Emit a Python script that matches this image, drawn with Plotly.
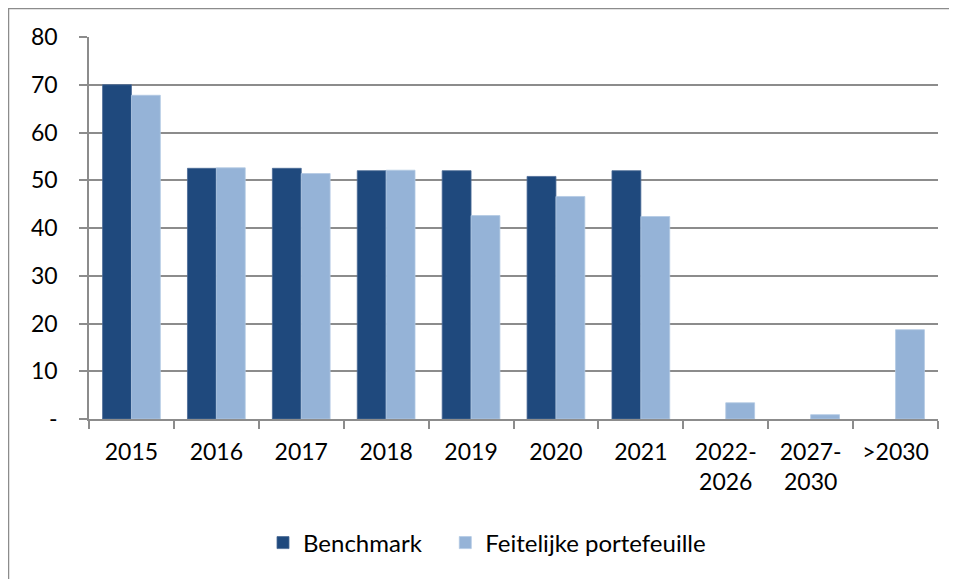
import plotly.graph_objects as go

categories = ["2015", "2016", "2017", "2018", "2019", "2020", "2021",
              "2022-<br>2026", "2027-<br>2030", ">2030"]
benchmark = [70.0, 52.5, 52.5, 52.0, 52.0, 50.8, 52.0, None, None, None]
portefeuille = [67.8, 52.6, 51.4, 52.1, 42.6, 46.6, 42.4, 3.4, 0.9, 18.7]
y_tickvals = [0, 10, 20, 30, 40, 50, 60, 70, 80]
y_ticktext = ["-", "10", "20", "30", "40", "50", "60", "70", "80"]

FONT = "Lato, Calibri, sans-serif"
GRID = "#8c8c8c"

fig = go.Figure()
fig.add_trace(go.Bar(x=categories, y=benchmark, name="Benchmark\u00a0\u00a0\u00a0",
                     marker=dict(color="#1F497D", line=dict(color="#4a6a96", width=0.8))))
fig.add_trace(go.Bar(x=categories, y=portefeuille, name="Feitelijke portefeuille",
                     marker=dict(color="#95B3D7", line=dict(color="#b3c9e3", width=0.8))))

# page body has an 8px margin; work in figure coordinates = reference - 8
OFF = 8
W, H = 957, 579
L, T = 89 - OFF, 37 - OFF
PR, PB = 938 - OFF, 419 - OFF
R, B = W - PR, H - PB
pw, ph = PR - L, PB - T

def px(x):
    return (x - OFF - L) / pw

def py(y):
    return (PB - (y - OFF)) / ph

fig.update_layout(
    width=W, height=H,
    margin=dict(l=L, r=R, t=T, b=B, pad=0),
    paper_bgcolor="white", plot_bgcolor="white",
    barmode="group", bargap=0.32, bargroupgap=0,
    font=dict(family=FONT, size=23, color="#000000"),
    showlegend=True,
    legend=dict(orientation="h", x=px(263), xanchor="left", y=py(543), yanchor="middle",
                font=dict(size=24), itemwidth=30, traceorder="normal",
                bgcolor="rgba(0,0,0,0)"),
    xaxis=dict(showline=True, linecolor=GRID, linewidth=1.5,
               ticks="outside", tickson="boundaries", ticklen=8, tickcolor=GRID, tickwidth=1.5,
               showgrid=False, tickfont=dict(size=23), ticklabelstandoff=12, fixedrange=True),
    yaxis=dict(range=[0, 80], tickvals=y_tickvals, ticktext=y_ticktext,
               showline=True, linecolor=GRID, linewidth=1.5,
               ticks="outside", ticklen=8, tickcolor=GRID, tickwidth=1.5,
               showgrid=True, gridcolor=GRID, gridwidth=1.5,
               zeroline=False, ticklabelstandoff=17, tickfont=dict(size=23), fixedrange=True),
    shapes=[
        dict(type="line", xref="paper", yref="paper", x0=px(8), x1=px(965), y0=py(8.5), y1=py(8.5),
             line=dict(color=GRID, width=1.5)),
        dict(type="line", xref="paper", yref="paper", x0=px(8.5), x1=px(8.5), y0=py(8), y1=py(590),
             line=dict(color=GRID, width=1.5)),
    ],
)

fig.write_html("out.html")
